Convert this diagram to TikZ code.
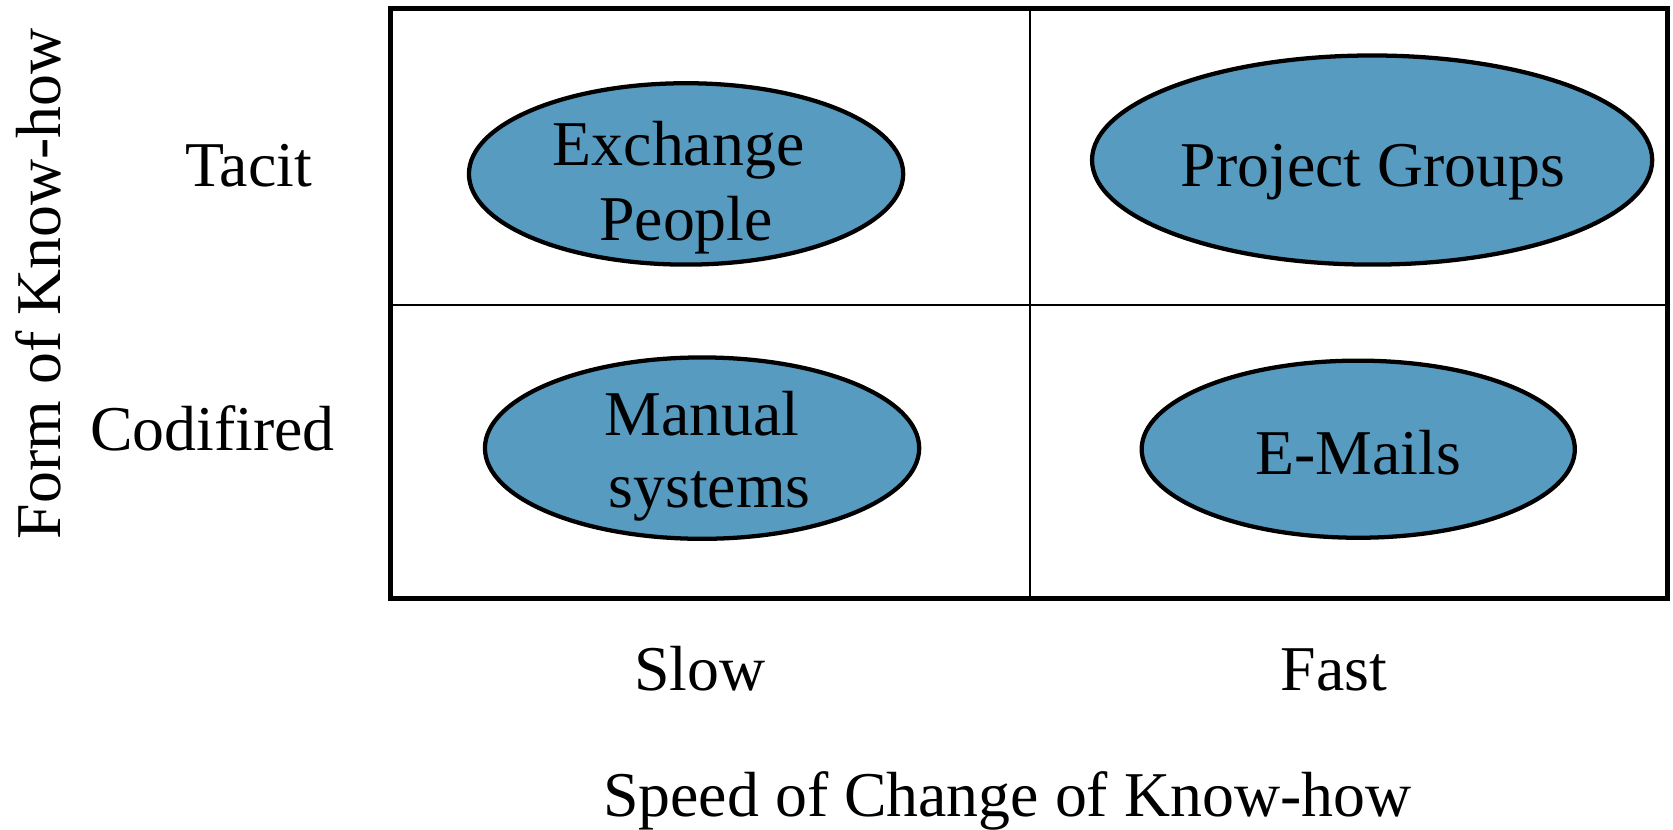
\documentclass[tikz,border=0pt]{standalone}
\usepackage{fontspec}
\setmainfont{Liberation Serif}
\usetikzlibrary{shapes.geometric}
\definecolor{blobblue}{RGB}{87,155,192}
\begin{document}
\begin{tikzpicture}[x=0.5pt,y=-0.5pt,
  blob/.style={ellipse, draw=black, line width=2pt, fill=blobblue, inner sep=0pt, outer sep=0pt},
  txt/.style={anchor=base, inner sep=0pt, font=\fontsize{29.9pt}{35pt}\selectfont},
  frame/.style={line width=2.2pt},
  divider/.style={line width=1pt}]
\useasboundingbox (0,0) rectangle (1568,777);
% grid
\coordinate (tl) at (366,8);
\coordinate (br) at (1563,561);
\coordinate (vt) at (965,8);
\coordinate (vb) at (965,561);
\coordinate (hl) at (366,286);
\coordinate (hr) at (1563,286);
\draw[divider] (vt) -- (vb);
\draw[divider] (hl) -- (hr);
\draw[frame] (tl) rectangle (br);
% quadrant ellipses
\node[blob, minimum width=203.5pt, minimum height=85pt] (ex) at (643,163) {};
\node[blob, minimum width=262.5pt, minimum height=98pt] (pg) at (1286,150) {};
\node[blob, minimum width=203.5pt, minimum height=85pt] (ms) at (658,420) {};
\node[blob, minimum width=203pt, minimum height=83pt] (em) at (1273,421) {};
% ellipse texts
\node[txt] (ex1) at (636,155) {Exchange};
\node[txt] (ex2) at (643,225) {People};
\node[txt] (pg1) at (1287,175) {Project Groups};
\node[txt] (ms1) at (658,408) {Manual};
\node[txt] (ms2) at (665,476) {systems};
\node[txt] (em1) at (1273,445) {E-Mails};
% axis labels
\node[txt] (tacit) at (233,175) {Tacit};
\node[txt] (cod) at (199,422) {Codifired};
\node[txt] (slow) at (656,647) {Slow};
\node[txt] (fast) at (1250,647) {Fast};
\node[txt] (xlab) at (944,765) {Speed of Change of Know-how};
\node[txt, rotate=90] (ylab) at (57,266) {Form of Know-how};
\end{tikzpicture}
\end{document}
